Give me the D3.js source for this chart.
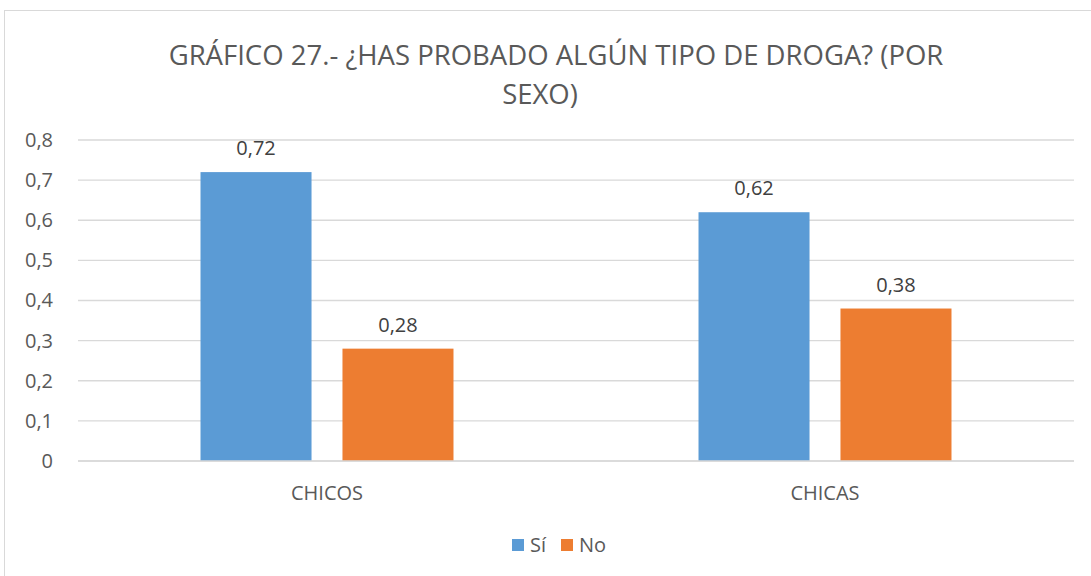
<!DOCTYPE html>
<html>
<head>
<meta charset="utf-8">
<script src="https://cdn.jsdelivr.net/npm/d3@7"></script>
<style>
  body { margin: 0; background: #fff; }
  svg { display: block; font-family: "Open Sans", sans-serif; }
</style>
</head>
<body>
<svg id="chart" width="1091" height="576"></svg>
<script>
const categories = ["CHICOS", "CHICAS"];
const seriesNames = ["Sí", "No"];
const si = [0.72, 0.62];
const no = [0.28, 0.38];
const yTicks = [0, 0.1, 0.2, 0.3, 0.4, 0.5, 0.6, 0.7, 0.8];
const colors = ["#5B9BD5", "#ED7D31"];

const svg = d3.select("#chart");
const plotLeft = 78, plotRight = 1074, plotTop = 140, plotBottom = 461;

// chart area border
svg.append("rect")
   .attr("x", 4.5).attr("y", 10.5)
   .attr("width", 1100).attr("height", 600)
   .attr("fill", "none").attr("stroke", "#D9D9D9");

const x = d3.scaleBand().domain(categories).range([plotLeft, plotRight]);
const xs = d3.scaleBand().domain(seriesNames).range([0, x.bandwidth()]).paddingInner(0.218).paddingOuter(0.863);
const y = d3.scaleLinear().domain([0, 0.8]).range([plotBottom, plotTop]);

// gridlines
svg.append("g")
   .selectAll("line")
   .data(yTicks)
   .enter()
   .append("line")
   .attr("x1", plotLeft).attr("x2", plotRight)
   .attr("y1", d => y(d)).attr("y2", d => y(d))
   .attr("stroke", "#D9D9D9").attr("stroke-width", 1.3);

// y axis labels
const yAxis = svg.append("g")
   .attr("transform", `translate(${plotLeft - 22}, 0)`)
   .call(d3.axisLeft(y).tickValues(yTicks).tickSize(0).tickFormat(d => d === 0 ? "0" : d3.format(".1f")(d).replace(".", ",")));
yAxis.select(".domain").remove();
yAxis.selectAll("text").attr("fill", "#595959").attr("font-size", "20px").attr("font-family", "Open Sans");

const rows = categories.map((c, i) => [
    { cat: c, name: "Sí", value: si[i], color: colors[0] },
    { cat: c, name: "No", value: no[i], color: colors[1] }
]).flat();

svg.selectAll(".bar")
   .data(rows)
   .enter()
   .append("rect")
   .classed("bar", true)
   .attr("x", d => x(d.cat) + xs(d.name))
   .attr("y", d => y(d.value))
   .attr("width", xs.bandwidth())
   .attr("height", d => plotBottom - y(d.value))
   .attr("fill", d => d.color);

svg.selectAll(".lbl")
   .data(rows)
   .enter()
   .append("text")
   .classed("lbl", true)
   .attr("x", d => x(d.cat) + xs(d.name) + xs.bandwidth() / 2)
   .attr("y", d => y(d.value) - 17)
   .attr("text-anchor", "middle")
   .attr("fill", "#404040")
   .attr("font-size", "20px")
   .text(d => d3.format(".2f")(d.value).replace(".", ","));

// x axis line
svg.append("line")
   .attr("x1", plotLeft).attr("x2", plotRight)
   .attr("y1", plotBottom).attr("y2", plotBottom)
   .attr("stroke", "#D9D9D9").attr("stroke-width", 1.3);

const xAxis = svg.append("g")
   .attr("transform", `translate(0, ${plotBottom + 22})`)
   .call(d3.axisBottom(x).tickSize(0));
xAxis.select(".domain").remove();
xAxis.selectAll("text").attr("fill", "#595959").attr("font-size", "20px").attr("font-family", "Open Sans").attr("dy", "0.71em");

// title
const title = svg.append("text")
   .attr("text-anchor", "middle")
   .attr("fill", "#595959")
   .attr("font-size", "27.5px");
title.append("tspan").attr("x", 556).attr("y", 65).text("GRÁFICO 27.- ¿HAS PROBADO ALGÚN TIPO DE DROGA? (POR");
title.append("tspan").attr("x", 540).attr("y", 104).text("SEXO)");

// legend
const legend = svg.append("g").attr("transform", "translate(512, 545)");
const li = legend.selectAll("g")
   .data(seriesNames)
   .enter()
   .append("g")
   .attr("transform", (d, i) => `translate(${i * 49}, 0)`);
li.append("rect").attr("x", 0).attr("y", -6).attr("width", 12).attr("height", 12).attr("fill", (d, i) => colors[i]);
li.append("text").attr("x", 18).attr("y", 7).attr("fill", "#595959").attr("font-size", "20px").text(d => d);
</script>
</body>
</html>
